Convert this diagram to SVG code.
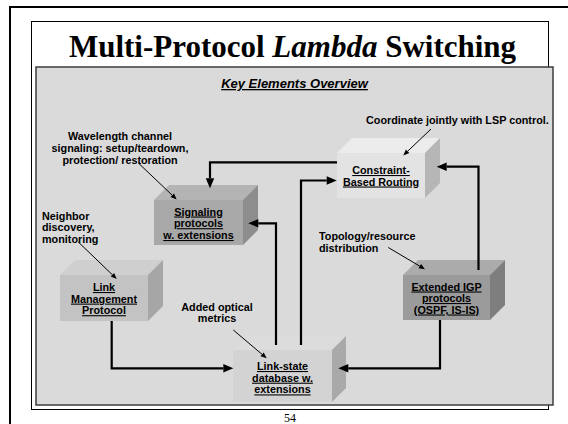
<svg xmlns="http://www.w3.org/2000/svg" width="568" height="424" viewBox="0 0 568 424">
<style>
.lbl{font-family:"Liberation Sans",Arial,sans-serif;font-weight:bold;font-size:10.8px;fill:#000}
.nl{font-family:"Liberation Sans",Arial,sans-serif;font-weight:bold;font-size:10.8px;fill:#000;text-anchor:middle;text-decoration:underline}
.conn{fill:none;stroke:#000;stroke-width:2.2}
.lead{fill:none;stroke:#000;stroke-width:1}
</style>
<defs>
<marker id="ah" markerUnits="userSpaceOnUse" markerWidth="10" markerHeight="9" refX="0" refY="4.25" orient="auto" overflow="visible">
<path d="M0,0 L10,4.25 L0,8.5 z" fill="#000"/>
</marker>
<marker id="sh" markerUnits="userSpaceOnUse" markerWidth="6" markerHeight="5" refX="0" refY="2.5" orient="auto" overflow="visible">
<path d="M0,0 L6,2.5 L0,5 z" fill="#000"/>
</marker>
</defs>
<rect x="0" y="0" width="568" height="424" fill="#fff"/>
<rect x="10" y="7" width="700" height="500" fill="none" stroke="#000" stroke-width="2"/>
<rect x="31.5" y="21.5" width="517" height="388" fill="#fff" stroke="#000" stroke-width="1"/>
<text x="292.5" y="57" text-anchor="middle" font-family="Liberation Serif,'Times New Roman',serif" font-weight="bold" font-size="31" fill="#000">Multi-Protocol <tspan font-style="italic">Lambda</tspan> Switching</text>
<rect x="36" y="67" width="517" height="338" fill="#dadada" stroke="#3c3c3c" stroke-width="1.5"/>
<text x="294.5" y="88" text-anchor="middle" font-family="Liberation Sans,Arial,sans-serif" font-weight="bold" font-style="italic" font-size="13" text-decoration="underline" fill="#000">Key Elements Overview</text>

<g id="node-constraint">
<polygon points="337,153 352,138 440,138 425,153" fill="#ececec"/>
<polygon points="425,153 440,138 440,183 425,198" fill="#b6b6b6"/>
<rect x="337" y="153" width="88" height="45" fill="#e3e3e3"/>
<text class="nl" x="381" y="174">Constraint-</text>
<text class="nl" x="381" y="185.5">Based Routing</text>
</g>
<g id="node-signaling">
<polygon points="154,200 169,185 258,185 243,200" fill="#b4b4b4"/>
<polygon points="243,200 258,185 258,230 243,245" fill="#8d8d8d"/>
<rect x="154" y="200" width="89" height="45" fill="#a8a8a8"/>
<text class="nl" x="198.5" y="215.5">Signaling</text>
<text class="nl" x="198.5" y="227.2">protocols</text>
<text class="nl" x="198.5" y="239">w. extensions</text>
</g>
<g id="node-lmp">
<polygon points="60,275 75,260 163,260 148,275" fill="#cfcfcf"/>
<polygon points="148,275 163,260 163,306 148,321" fill="#a6a6a6"/>
<rect x="60" y="275" width="88" height="46" fill="#c3c3c3"/>
<text class="nl" x="104" y="291">Link</text>
<text class="nl" x="104" y="302.6">Management</text>
<text class="nl" x="104" y="314.2">Protocol</text>
</g>
<g id="node-igp">
<polygon points="403,275 418,260 505,260 490,275" fill="#ababab"/>
<polygon points="490,275 505,260 505,305 490,320" fill="#7e7e7e"/>
<rect x="403" y="275" width="87" height="45" fill="#9b9b9b"/>
<text class="nl" x="446.5" y="290.5">Extended IGP</text>
<text class="nl" x="446.5" y="302">protocols</text>
<text class="nl" x="446.5" y="313.5">(OSPF, IS-IS)</text>
</g>
<g id="node-lsdb">
<polygon points="233,350 247,336 346,336 332,350" fill="#dcdcdc"/>
<polygon points="332,350 346,336 346,388 332,402" fill="#a9a9a9"/>
<rect x="233" y="350" width="99" height="52" fill="#d3d3d3"/>
<text class="nl" x="282.5" y="370">Link-state</text>
<text class="nl" x="282.5" y="381.7">database w.</text>
<text class="nl" x="282.5" y="393.4">extensions</text>
</g>

<g id="connectors">
<path class="conn" d="M337,162.3 H210 V178.3" marker-end="url(#ah)"/>
<path class="conn" d="M276,345 V223.3 H258.3" marker-end="url(#ah)"/>
<path class="conn" d="M301,345 V180.5 H326.7" marker-end="url(#ah)"/>
<path class="conn" d="M478.5,270 V166.7 H446.7" marker-end="url(#ah)"/>
<path class="conn" d="M111.7,321 V368.3 H223.3" marker-end="url(#ah)"/>
<path class="conn" d="M440,320 V368.3 H348.3" marker-end="url(#ah)"/>
<path class="lead" d="M138.3,163 L172.3,195.3" marker-end="url(#sh)"/>
<path class="lead" d="M78.3,242 L112.4,274.8" marker-end="url(#sh)"/>
<path class="lead" d="M431,129 L407.6,151.3" marker-end="url(#sh)"/>
<path class="lead" d="M388.3,247.5 L419.8,266.2" marker-end="url(#sh)"/>
<path class="lead" d="M233.3,330 L262.1,354.4" marker-end="url(#sh)"/>
</g>

<g id="annotations">
<text class="lbl" x="120" y="140" text-anchor="middle">Wavelength channel</text>
<text class="lbl" x="120" y="152" text-anchor="middle">signaling: setup/teardown,</text>
<text class="lbl" x="120" y="164" text-anchor="middle">protection/ restoration</text>
<text class="lbl" x="42" y="219.7">Neighbor</text>
<text class="lbl" x="42" y="231.4">discovery,</text>
<text class="lbl" x="42" y="243">monitoring</text>
<text class="lbl" x="366" y="124">Coordinate jointly with LSP control.</text>
<text class="lbl" x="319" y="240">Topology/resource</text>
<text class="lbl" x="319" y="251.7">distribution</text>
<text class="lbl" x="217" y="310.5" text-anchor="middle">Added optical</text>
<text class="lbl" x="217" y="322" text-anchor="middle">metrics</text>
</g>
<text x="290" y="422" text-anchor="middle" font-family="Liberation Serif,'Times New Roman',serif" font-size="12" fill="#000">54</text>
</svg>
